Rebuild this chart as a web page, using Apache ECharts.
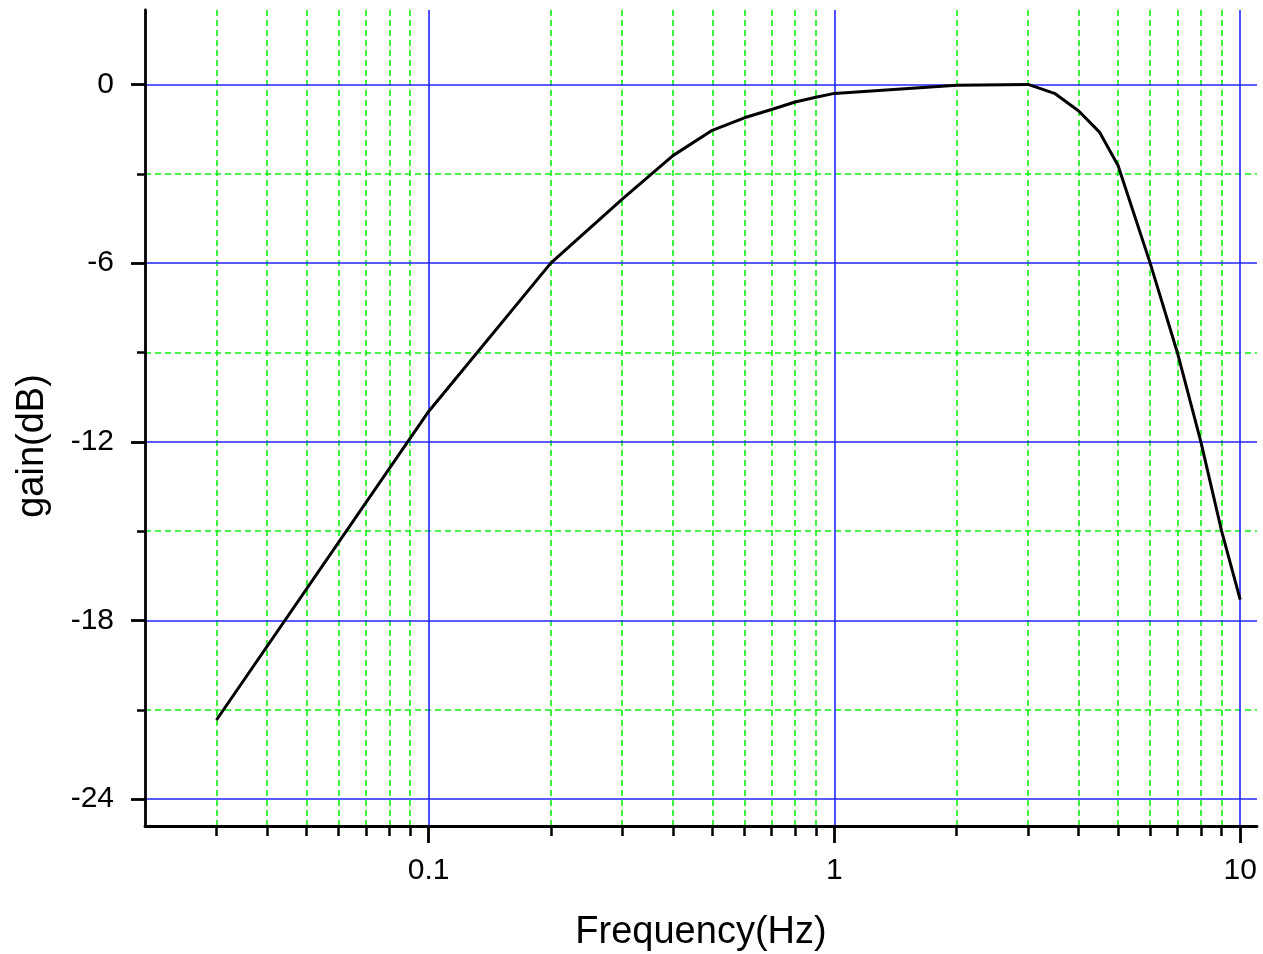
<!DOCTYPE html>
<html>
<head>
<meta charset="utf-8">
<script src="https://cdn.jsdelivr.net/npm/echarts@6/dist/echarts.min.js"></script>
<style>
html,body{margin:0;padding:0;background:#fff;}
#chart{width:1263px;height:954px;}
</style>
</head>
<body>
<div id="chart"></div>
<script>
// ---- data ----
var freqHz = [0.03, 0.1, 0.2, 0.3, 0.4, 0.5, 0.6, 0.7, 0.8, 0.9, 1, 2, 3, 3.5, 4, 4.5, 5, 6, 7, 8, 9, 10];
var gainDb = [-21.34, -10.98, -6.0, -3.85, -2.39, -1.54, -1.12, -0.84, -0.59, -0.43, -0.30, -0.03, 0.0, -0.31, -0.89, -1.6, -2.72, -6.0, -9.0, -12.0, -15.0, -17.3];

var xMajorTicks = [0.1, 1, 10];
var xMinorTicks = [0.03, 0.04, 0.05, 0.06, 0.07, 0.08, 0.09,
                   0.2, 0.3, 0.4, 0.5, 0.6, 0.7, 0.8, 0.9,
                   2, 3, 4, 5, 6, 7, 8, 9];
var yMajorTicks = [-24, -18, -12, -6, 0];
var yMinorTicks = [-21, -15, -9, -3];

var xRange = [0.02, 11];
var yRange = [-24.9, 2.5];

var xTitle = 'Frequency(Hz)';
var yTitle = 'gain(dB)';

// ---- chart ----
var FONT = 'Liberation Sans, Arial, sans-serif';
var chart = echarts.init(document.getElementById('chart'), null, {renderer: 'canvas'});

var points = freqHz.map(function (f, i) { return [f, gainDb[i]]; });

var majorLine = {show: true, lineStyle: {color: '#2424ff', width: 1.6, type: 'solid'}};
var minorLine = {show: true, lineStyle: {color: '#10f010', width: 1.6, type: [6, 4]}};

chart.setOption({
  animation: false,
  backgroundColor: '#ffffff',
  grid: {left: 145, right: 6, top: 10, bottom: 128, containLabel: false, outerBoundsMode: 'none'},
  xAxis: [
    {
      type: 'log', logBase: 10, min: xRange[0], max: xRange[1], position: 'bottom', z: 0,
      axisLine: {show: false, onZero: false},
      axisTick: {show: true, inside: false, length: 10, lineStyle: {color: '#000', width: 2.5}, customValues: xMinorTicks},
      axisLabel: {show: false},
      splitLine: minorLine
    },
    {
      type: 'log', logBase: 10, min: xRange[0], max: xRange[1], position: 'bottom', z: 1,
      name: xTitle, nameLocation: 'middle', nameGap: 88,
      nameTextStyle: {fontFamily: FONT, fontSize: 38, color: '#000'},
      axisLine: {show: true, onZero: false, lineStyle: {color: '#000', width: 2.8}},
      axisTick: {show: true, inside: false, length: 17, lineStyle: {color: '#000', width: 2.8}, customValues: xMajorTicks},
      axisLabel: {show: true, margin: 30, fontFamily: FONT, fontSize: 30, color: '#000', customValues: xMajorTicks,
                  formatter: function (v) { return String(+v.toPrecision(6)); }},
      splitLine: majorLine
    }
  ],
  yAxis: [
    {
      type: 'value', min: yRange[0], max: yRange[1], position: 'left', z: 0,
      axisLine: {show: false, onZero: false},
      axisTick: {show: true, inside: false, length: 8, lineStyle: {color: '#000', width: 2.5}, customValues: yMinorTicks},
      axisLabel: {show: false},
      splitLine: minorLine
    },
    {
      type: 'value', min: yRange[0], max: yRange[1], position: 'left', z: 1,
      name: yTitle, nameLocation: 'middle', nameGap: 93, nameRotate: 90,
      nameTextStyle: {fontFamily: FONT, fontSize: 38, color: '#000', padding: [0, 56, 0, 0]},
      axisLine: {show: true, onZero: false, lineStyle: {color: '#000', width: 2.8}},
      axisTick: {show: true, inside: false, length: 14, lineStyle: {color: '#000', width: 2.8}, customValues: yMajorTicks},
      axisLabel: {show: true, margin: 31, fontFamily: FONT, fontSize: 30, color: '#000', customValues: yMajorTicks},
      splitLine: majorLine
    }
  ],
  series: [{
    type: 'line',
    xAxisIndex: 1,
    yAxisIndex: 1,
    data: points,
    showSymbol: false,
    symbol: 'none',
    smooth: false,
    z: 5,
    lineStyle: {color: '#000', width: 3},
    clip: true
  }]
});
</script>
</body>
</html>
